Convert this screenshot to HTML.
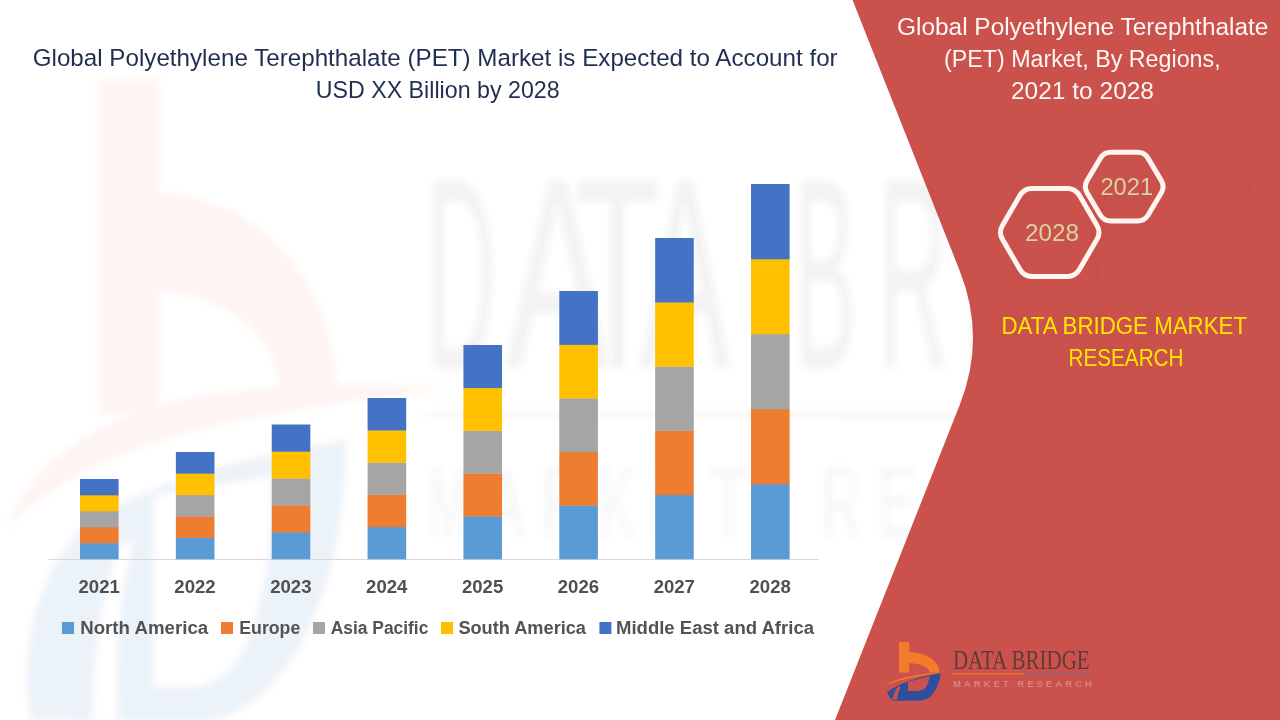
<!DOCTYPE html>
<html><head><meta charset="utf-8">
<style>
html,body{margin:0;padding:0;width:1280px;height:720px;overflow:hidden;background:#fff}
svg{display:block;position:absolute;left:0;top:0}
text{font-family:"Liberation Sans",sans-serif}
.yr{font-size:18.2px;font-weight:700;fill:#505050}
.lg{font-size:17.5px;font-weight:700;fill:#535353}
.t1{font-size:23.7px;fill:#1F2F52}
.t2{font-size:23.5px;fill:#FFF7F3}
.hx{font-size:23px;fill:#D8D4A2}
.yl{font-size:23.7px;fill:#FFE600}
</style></head><body>
<svg width="1280" height="720" viewBox="0 0 1280 720">
<defs><g id="logo">
<rect x="19" y="7" width="10.2" height="30.5" fill="#F47B2A"/>
<path d="M29,17 A30.3,20.5 0 0 1 59.5,37.5 L49.6,37.5 A20.4,9.3 0 0 0 29,28.2 Z" fill="#F47B2A"/>
<path d="M4,50 Q26,39.5 65,36.6 Q28,42.5 4,50 Z" fill="#F47B2A"/>
<path fill-rule="evenodd" fill="#2D4F9E" d="M7,57 Q24,44.5 60.8,38.2 Q59,52 51,61 Q46,65.8 38,65.8 L13,65.8 Q8.5,62 7,57 Z M28,46.7 L49.8,41.2 Q48.6,48 45.3,53.3 Q42,56 35,56.1 L28,56.1 Z M12.5,64.8 Q14,56 18.5,51 L20.5,52 Q17.5,58 17,64.8 Z"/>
<text x="72.9" y="34" style="font-family:'Liberation Serif',serif;font-size:27px" fill="#4A3838" opacity="0.85" textLength="136.8" lengthAdjust="spacingAndGlyphs">DATA BRIDGE</text>
<rect x="72" y="38.2" width="71.7" height="1.2" fill="#F47B2A"/>
<rect x="143.7" y="38.2" width="69.6" height="1.2" fill="#8A6A7A"/>
<text x="72.9" y="51.6" style="font-size:9.5px;font-weight:700" fill="#D89890" opacity="0.75" textLength="139" lengthAdjust="spacing">MARKET RESEARCH</text>
</g><g id="wmg" filter="url(#wb)">
<g opacity="0.075">
<rect x="99" y="79" width="59" height="335" fill="#EC6A3E"/>
<path d="M158,194 A178,199 0 0 1 336,393 L280,393 A122,101 0 0 0 158,292 Z" fill="#EC6A3E"/>
<path d="M8,528 Q40,430 200,396 Q330,378 450,388 Q330,402 220,424 Q70,460 8,528 Z" fill="#EC6A3E"/>
</g>
<g opacity="0.075">
<path fill-rule="evenodd" fill="#2D4F9E" d="M30,720 Q15,610 75,535 Q140,475 346,440 Q346,560 300,645 Q262,712 205,722 Z M154,496 L272,476 Q274,565 252,632 Q230,687 190,687 L154,687 Z M92,722 Q94,620 118,548 L134,540 Q112,620 118,722 Z"/>
</g>
<g opacity="0.065" fill="#4D4D4D"><text x="426" y="368" style="font-size:272px" textLength="70" lengthAdjust="spacingAndGlyphs">D</text><text x="505" y="368" style="font-size:272px" textLength="105" lengthAdjust="spacingAndGlyphs">A</text><text x="575" y="368" style="font-size:272px" textLength="85" lengthAdjust="spacingAndGlyphs">T</text><text x="640" y="368" style="font-size:272px" textLength="90" lengthAdjust="spacingAndGlyphs">A</text><text x="794" y="368" style="font-size:272px" textLength="62" lengthAdjust="spacingAndGlyphs">B</text><text x="878" y="368" style="font-size:272px" textLength="70" lengthAdjust="spacingAndGlyphs">R</text><text x="966" y="368" style="font-size:272px" textLength="16" lengthAdjust="spacingAndGlyphs">I</text><text x="1005" y="368" style="font-size:272px" textLength="73" lengthAdjust="spacingAndGlyphs">D</text><text x="1085" y="368" style="font-size:272px" textLength="77" lengthAdjust="spacingAndGlyphs">G</text><text x="1203" y="368" style="font-size:272px" textLength="53" lengthAdjust="spacingAndGlyphs">E</text><text x="430" y="537" style="font-size:100px" opacity="0.7" textLength="38" lengthAdjust="spacingAndGlyphs">M</text><text x="486" y="537" style="font-size:100px" opacity="0.7" textLength="38" lengthAdjust="spacingAndGlyphs">A</text><text x="542" y="537" style="font-size:100px" opacity="0.7" textLength="38" lengthAdjust="spacingAndGlyphs">R</text><text x="598" y="537" style="font-size:100px" opacity="0.7" textLength="38" lengthAdjust="spacingAndGlyphs">K</text><text x="654" y="537" style="font-size:100px" opacity="0.7" textLength="38" lengthAdjust="spacingAndGlyphs">E</text><text x="710" y="537" style="font-size:100px" opacity="0.7" textLength="38" lengthAdjust="spacingAndGlyphs">T</text><text x="822" y="537" style="font-size:100px" opacity="0.7" textLength="38" lengthAdjust="spacingAndGlyphs">R</text><text x="878" y="537" style="font-size:100px" opacity="0.7" textLength="38" lengthAdjust="spacingAndGlyphs">E</text><text x="934" y="537" style="font-size:100px" opacity="0.7" textLength="38" lengthAdjust="spacingAndGlyphs">S</text><text x="990" y="537" style="font-size:100px" opacity="0.7" textLength="38" lengthAdjust="spacingAndGlyphs">E</text><text x="1046" y="537" style="font-size:100px" opacity="0.7" textLength="38" lengthAdjust="spacingAndGlyphs">A</text><text x="1102" y="537" style="font-size:100px" opacity="0.7" textLength="38" lengthAdjust="spacingAndGlyphs">R</text><text x="1158" y="537" style="font-size:100px" opacity="0.7" textLength="38" lengthAdjust="spacingAndGlyphs">C</text><text x="1214" y="537" style="font-size:100px" opacity="0.7" textLength="38" lengthAdjust="spacingAndGlyphs">H</text></g>
<rect x="424" y="412" width="426" height="7" fill="#F47B2A" opacity="0.05"/>
<rect x="850" y="412" width="420" height="7" fill="#8A6A7A" opacity="0.05"/>
</g><clipPath id="rc"><path d="M852.5,0 L959.8,271 Q986.3,338 959.7,405 L835,720 L1280,720 L1280,0 Z"/></clipPath><filter id="wb" x="-10%" y="-10%" width="120%" height="120%"><feGaussianBlur stdDeviation="3"/></filter></defs>
<use href="#wmg"/>
<path d="M852.5,0 L959.8,271 Q986.3,338 959.7,405 L835,720 L1280,720 L1280,0 Z" fill="#CA514C"/>
<g clip-path="url(#rc)" opacity="0.2"><use href="#wmg"/></g>

<text x="32.7" y="65.6" class="t1" textLength="805" lengthAdjust="spacingAndGlyphs">Global Polyethylene Terephthalate (PET) Market is Expected to Account for</text>
<text x="315.7" y="97.8" class="t1" textLength="244" lengthAdjust="spacingAndGlyphs">USD XX Billion by 2028</text>
<line x1="48.5" y1="559.5" x2="819" y2="559.5" stroke="#D9D9D9" stroke-width="1"/>
<rect x="80.00" y="543.00" width="38.6" height="16.30" fill="#5B9BD5"/><rect x="80.00" y="527.00" width="38.6" height="16.30" fill="#ED7D31"/><rect x="80.00" y="511.00" width="38.6" height="16.30" fill="#A5A5A5"/><rect x="80.00" y="495.00" width="38.6" height="16.30" fill="#FFC000"/><rect x="80.00" y="479.00" width="38.6" height="16.30" fill="#4472C4"/><rect x="175.86" y="537.60" width="38.6" height="21.70" fill="#5B9BD5"/><rect x="175.86" y="516.20" width="38.6" height="21.70" fill="#ED7D31"/><rect x="175.86" y="494.80" width="38.6" height="21.70" fill="#A5A5A5"/><rect x="175.86" y="473.40" width="38.6" height="21.70" fill="#FFC000"/><rect x="175.86" y="452.00" width="38.6" height="21.70" fill="#4472C4"/><rect x="271.72" y="532.10" width="38.6" height="27.20" fill="#5B9BD5"/><rect x="271.72" y="505.20" width="38.6" height="27.20" fill="#ED7D31"/><rect x="271.72" y="478.30" width="38.6" height="27.20" fill="#A5A5A5"/><rect x="271.72" y="451.40" width="38.6" height="27.20" fill="#FFC000"/><rect x="271.72" y="424.50" width="38.6" height="27.20" fill="#4472C4"/><rect x="367.58" y="526.80" width="38.6" height="32.50" fill="#5B9BD5"/><rect x="367.58" y="494.60" width="38.6" height="32.50" fill="#ED7D31"/><rect x="367.58" y="462.40" width="38.6" height="32.50" fill="#A5A5A5"/><rect x="367.58" y="430.20" width="38.6" height="32.50" fill="#FFC000"/><rect x="367.58" y="398.00" width="38.6" height="32.50" fill="#4472C4"/><rect x="463.44" y="516.20" width="38.6" height="43.10" fill="#5B9BD5"/><rect x="463.44" y="473.40" width="38.6" height="43.10" fill="#ED7D31"/><rect x="463.44" y="430.60" width="38.6" height="43.10" fill="#A5A5A5"/><rect x="463.44" y="387.80" width="38.6" height="43.10" fill="#FFC000"/><rect x="463.44" y="345.00" width="38.6" height="43.10" fill="#4472C4"/><rect x="559.30" y="505.40" width="38.6" height="53.90" fill="#5B9BD5"/><rect x="559.30" y="451.80" width="38.6" height="53.90" fill="#ED7D31"/><rect x="559.30" y="398.20" width="38.6" height="53.90" fill="#A5A5A5"/><rect x="559.30" y="344.60" width="38.6" height="53.90" fill="#FFC000"/><rect x="559.30" y="291.00" width="38.6" height="53.90" fill="#4472C4"/><rect x="655.16" y="494.80" width="38.6" height="64.50" fill="#5B9BD5"/><rect x="655.16" y="430.60" width="38.6" height="64.50" fill="#ED7D31"/><rect x="655.16" y="366.40" width="38.6" height="64.50" fill="#A5A5A5"/><rect x="655.16" y="302.20" width="38.6" height="64.50" fill="#FFC000"/><rect x="655.16" y="238.00" width="38.6" height="64.50" fill="#4472C4"/><rect x="751.02" y="484.00" width="38.6" height="75.30" fill="#5B9BD5"/><rect x="751.02" y="409.00" width="38.6" height="75.30" fill="#ED7D31"/><rect x="751.02" y="334.00" width="38.6" height="75.30" fill="#A5A5A5"/><rect x="751.02" y="259.00" width="38.6" height="75.30" fill="#FFC000"/><rect x="751.02" y="184.00" width="38.6" height="75.30" fill="#4472C4"/>
<text x="78.50" y="592.8" class="yr" textLength="41.3" lengthAdjust="spacingAndGlyphs">2021</text><text x="174.36" y="592.8" class="yr" textLength="41.3" lengthAdjust="spacingAndGlyphs">2022</text><text x="270.22" y="592.8" class="yr" textLength="41.3" lengthAdjust="spacingAndGlyphs">2023</text><text x="366.08" y="592.8" class="yr" textLength="41.3" lengthAdjust="spacingAndGlyphs">2024</text><text x="461.94" y="592.8" class="yr" textLength="41.3" lengthAdjust="spacingAndGlyphs">2025</text><text x="557.80" y="592.8" class="yr" textLength="41.3" lengthAdjust="spacingAndGlyphs">2026</text><text x="653.66" y="592.8" class="yr" textLength="41.3" lengthAdjust="spacingAndGlyphs">2027</text><text x="749.52" y="592.8" class="yr" textLength="41.3" lengthAdjust="spacingAndGlyphs">2028</text>
<rect x="62" y="622" width="12" height="12" fill="#5B9BD5"/>
<text x="80.2" y="633.75" class="lg" textLength="128" lengthAdjust="spacingAndGlyphs">North America</text>
<rect x="221" y="622" width="12" height="12" fill="#ED7D31"/>
<text x="239.3" y="633.75" class="lg" textLength="61" lengthAdjust="spacingAndGlyphs">Europe</text>
<rect x="313" y="622" width="12" height="12" fill="#A5A5A5"/>
<text x="330.7" y="633.75" class="lg" textLength="97.7" lengthAdjust="spacingAndGlyphs">Asia Pacific</text>
<rect x="441" y="622" width="12" height="12" fill="#FFC000"/>
<text x="458.4" y="633.75" class="lg" textLength="127.6" lengthAdjust="spacingAndGlyphs">South America</text>
<rect x="599.4" y="622" width="12" height="12" fill="#4472C4"/>
<text x="616" y="633.75" class="lg" textLength="198" lengthAdjust="spacingAndGlyphs">Middle East and Africa</text>
<text x="897" y="34.8" class="t2" textLength="371.4" lengthAdjust="spacingAndGlyphs">Global Polyethylene Terephthalate</text>
<text x="944" y="66.7" class="t2" textLength="276.6" lengthAdjust="spacingAndGlyphs">(PET) Market, By Regions,</text>
<text x="1011" y="98.75" class="t2" textLength="143" lengthAdjust="spacingAndGlyphs">2021 to 2028</text>
<path d="M1002.43,239.31 Q998.40,232.40 1002.43,225.49 L1020.02,195.31 Q1024.05,188.40 1032.05,188.40 L1067.35,188.40 Q1075.35,188.40 1079.38,195.31 L1096.97,225.49 Q1101.00,232.40 1096.97,239.31 L1079.38,269.49 Q1075.35,276.40 1067.35,276.40 L1032.05,276.40 Q1024.05,276.40 1020.02,269.49 Z" fill="none" stroke="#FFF4F0" stroke-width="5"/>
<path d="M1087.07,192.67 Q1083.50,186.65 1087.07,180.63 L1100.28,158.37 Q1103.85,152.35 1110.85,152.35 L1137.55,152.35 Q1144.55,152.35 1148.12,158.37 L1161.33,180.63 Q1164.90,186.65 1161.33,192.67 L1148.12,214.93 Q1144.55,220.95 1137.55,220.95 L1110.85,220.95 Q1103.85,220.95 1100.28,214.93 Z" fill="none" stroke="#FFF4F0" stroke-width="5"/>
<text x="1025" y="240.6" class="hx" textLength="54" lengthAdjust="spacingAndGlyphs">2028</text>
<text x="1100.4" y="195.2" class="hx" textLength="52.7" lengthAdjust="spacingAndGlyphs">2021</text>
<text x="1001.5" y="333.8" class="yl" textLength="245.5" lengthAdjust="spacingAndGlyphs">DATA BRIDGE MARKET</text>
<text x="1068.5" y="365.8" class="yl" textLength="115" lengthAdjust="spacingAndGlyphs">RESEARCH</text>
<use href="#logo" transform="translate(880,635)"/>
</svg>
</body></html>
